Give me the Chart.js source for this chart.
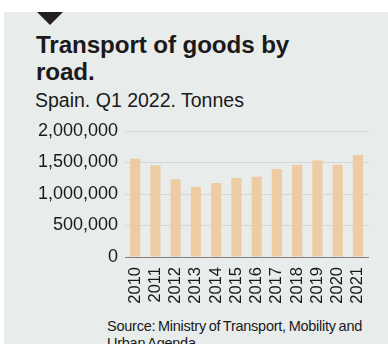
<!DOCTYPE html>
<html>
<head>
<meta charset="utf-8">
<script src="https://cdn.jsdelivr.net/npm/chart.js@4.4.0/dist/chart.umd.min.js"></script>
<style>
  html, body { margin: 0; padding: 0; background: #ffffff; }
  body { width: 388px; height: 344px; position: relative; overflow: hidden; font-family: "Liberation Sans", Arial, sans-serif; color: #1a1a1a; }
  #panel { position: absolute; left: 4px; top: 12px; right: 0; bottom: 0; background: #e8ecea; }
  #marker { position: absolute; left: 37px; top: 12px; width: 0; height: 0;
    border-left: 13.5px solid transparent; border-right: 13.5px solid transparent; border-top: 13px solid #231f20; }
  #title { position: absolute; left: 36px; top: 31px; width: 350px; font-weight: bold; font-size: 24.2px; line-height: 27px; letter-spacing: -0.1px; white-space: nowrap; }
  #subtitle { position: absolute; left: 35px; top: 89px; font-size: 19.5px; line-height: 22px; }
  #source { position: absolute; left: 107px; top: 318px; width: 290px; font-size: 14.5px; line-height: 17px; letter-spacing: -0.25px; word-spacing: -1px; white-space: nowrap; }
  #wrap { position: absolute; left: 0; top: 112px; width: 388px; height: 200px; }
</style>
</head>
<body>
<div id="panel"></div>
<div id="marker"></div>
<div id="title">Transport of goods by<br>road.</div>
<div id="subtitle">Spain. Q1 2022. Tonnes</div>
<div id="wrap"><canvas id="chart"></canvas></div>
<div id="source">Source: Ministry of Transport, Mobility and<br>Urban Agenda</div>
<script>
const years = ['2010', '2011', '2012', '2013', '2014', '2015', '2016', '2017', '2018', '2019', '2020', '2021'];
const tonnes = [1560000, 1455000, 1235000, 1112000, 1175000, 1255000, 1275000, 1398000, 1466000, 1530000, 1466000, 1620000];
const yTicks = [0, 500000, 1000000, 1500000, 2000000];

const ctx = document.getElementById('chart').getContext('2d');
new Chart(ctx, {
    type: 'bar',
    data: {
        labels: years,
        datasets: [{
            data: tonnes,
            backgroundColor: '#edcba3',
            borderWidth: 0,
            barPercentage: 0.5,
            categoryPercentage: 1.0
        }]
    },
    options: {
        responsive: true,
        maintainAspectRatio: false,
        animation: false,
        layout: { padding: { top: 19, right: 7, left: 0, bottom: 0 } },
        plugins: {
            legend: { display: false },
            tooltip: { enabled: false }
        },
        scales: {
            x: {
                grid: { display: false, drawTicks: false },
                border: { display: true, color: '#808080', width: 1 },
                ticks: {
                    color: '#1a1a1a',
                    font: { family: 'Liberation Sans', size: 16.5 },
                    maxRotation: 90,
                    minRotation: 90,
                    padding: 10,
                    autoSkip: false
                },
                afterFit: (scale) => { scale.height = 55; }
            },
            y: {
                min: 0,
                max: 2000000,
                afterBuildTicks: (scale) => { scale.ticks = yTicks.map(v => ({ value: v })); },
                grid: { color: '#d3d7d5', drawTicks: false },
                border: { display: false },
                ticks: {
                    color: '#1a1a1a',
                    font: { family: 'Liberation Sans', size: 18 },
                    padding: 7,
                    callback: (v) => v.toLocaleString('en-US')
                },
                afterFit: (scale) => { scale.width = 125; }
            }
        }
    }
});
</script>
</body>
</html>
